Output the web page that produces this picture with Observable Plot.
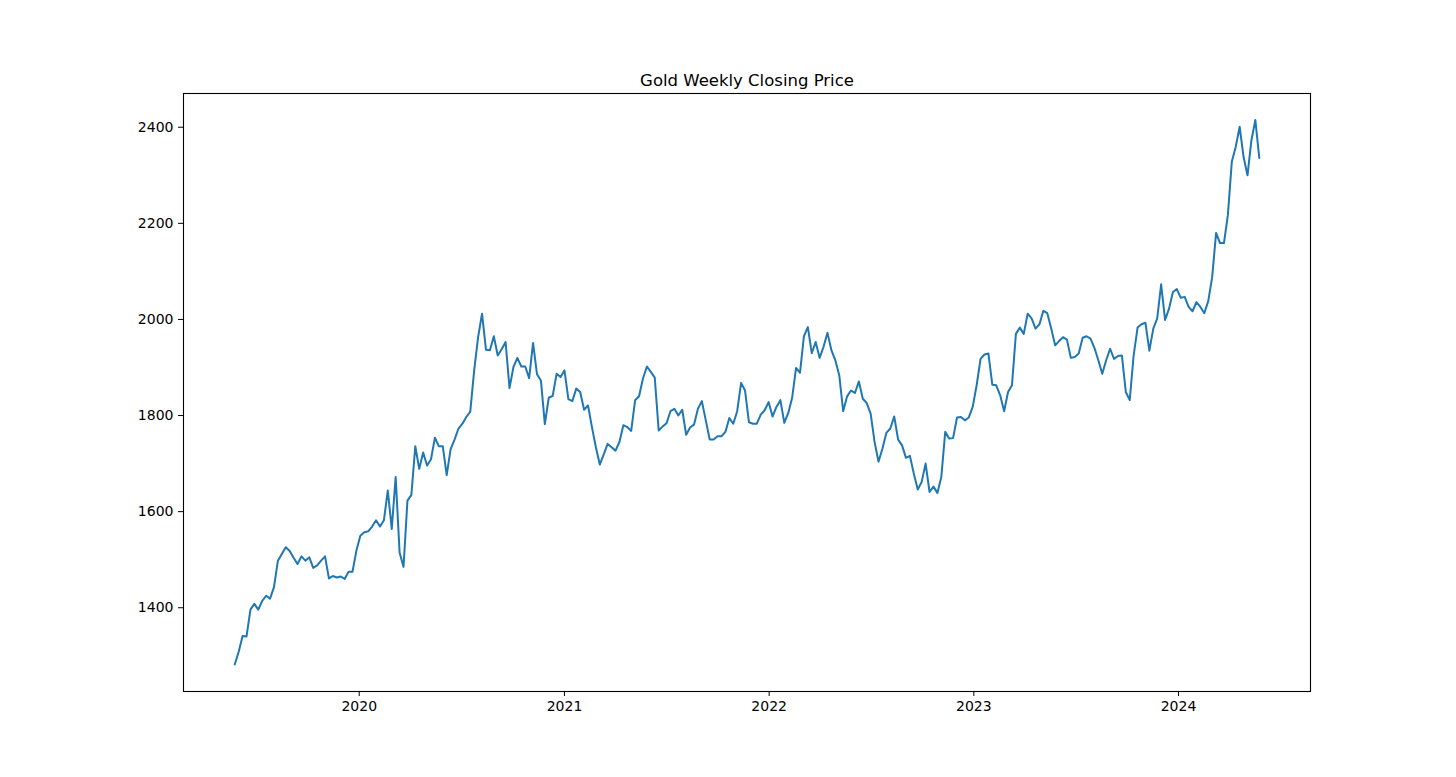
<!DOCTYPE html>
<html>
<head>
<meta charset="utf-8">
<script src="https://cdn.jsdelivr.net/npm/d3@7"></script>
<script src="https://cdn.jsdelivr.net/npm/@observablehq/plot@0.6"></script>
<style>
  html, body { margin: 0; padding: 0; background: #ffffff; }
  #chart { width: 1456px; height: 777px; }
</style>
</head>
<body>
<div id="chart"></div>
<script>
const title = "Gold Weekly Closing Price";
const firstWeek = "2019-05-24";
const closes = [
  1282,1308,1341,1340,1396,1408,1396,1414,1425,1419,
  1443,1498,1512,1526,1518,1504,1491,1507,1498,1505,
  1483,1488,1498,1507,1461,1466,1463,1465,1460,1475,
  1475,1519,1550,1557,1559,1569,1582,1569,1582,1644,
  1564,1672,1515,1485,1623,1635,1736,1689,1723,1696,
  1709,1754,1736,1736,1676,1730,1750,1773,1783,1797,
  1808,1894,1963,2012,1937,1936,1965,1925,1938,1953,
  1857,1901,1920,1902,1902,1878,1951,1886,1873,1782,
  1837,1841,1887,1880,1894,1834,1830,1856,1849,1812,
  1821,1776,1734,1698,1719,1741,1734,1727,1745,1780,
  1776,1768,1832,1840,1877,1902,1891,1879,1769,1777,
  1784,1809,1814,1800,1812,1760,1775,1781,1814,1830,
  1790,1750,1750,1757,1757,1766,1795,1783,1809,1868,
  1852,1786,1783,1783,1802,1811,1828,1798,1818,1832,
  1785,1805,1837,1899,1889,1965,1984,1930,1953,1920,
  1943,1972,1936,1915,1884,1809,1840,1852,1847,1871,
  1835,1826,1804,1745,1704,1731,1764,1773,1798,1750,
  1738,1712,1716,1679,1646,1662,1700,1641,1652,1639,
  1672,1766,1752,1753,1796,1797,1790,1796,1818,1863,
  1918,1927,1929,1864,1863,1842,1809,1849,1863,1970,
  1983,1970,2012,2002,1981,1990,2018,2013,1981,1946,
  1955,1963,1958,1920,1922,1929,1962,1965,1960,1941,
  1915,1887,1915,1939,1918,1924,1925,1849,1832,1925,
  1983,1990,1993,1935,1981,2002,2073,1999,2022,2057,
  2063,2045,2047,2026,2017,2036,2026,2013,2038,2088,
  2180,2159,2159,2217,2328,2359,2401,2338,2300,2373,
  2415,2336
];
const yTicks = [1400, 1600, 1800, 2000, 2200, 2400];
const yBounds = [1225.7, 2470.2];
const xTickYears = ["2020-01-01", "2021-01-01", "2022-01-01", "2023-01-01", "2024-01-01"];

const start = new Date(firstWeek + "T00:00:00Z");
const data = closes.map((v, i) => ({ date: d3.utcDay.offset(start, 7 * i), close: v }));

const t0 = data[0].date.getTime();
const t1 = data[data.length - 1].date.getTime();
const pad = (t1 - t0) * 0.05;
const xDomain = [new Date(t0 - pad), new Date(t1 + pad)];

const chart = Plot.plot({
  width: 1456,
  height: 777,
  marginLeft: 183,
  marginRight: 146,
  marginTop: 93,
  marginBottom: 86,
  style: { fontFamily: "DejaVu Sans", fontSize: "14px", color: "black", background: "white" },
  x: { type: "utc", domain: xDomain },
  y: { domain: yBounds },
  marks: [
    Plot.line(data, { x: "date", y: "close", stroke: "#1f77b4", strokeWidth: 2 }),
    Plot.frame({ stroke: "black", strokeWidth: 1.1 }),
    Plot.axisX({ ticks: xTickYears.map(d => new Date(d + "T00:00:00Z")), tickFormat: d3.utcFormat("%Y"), tickSize: 5, tickPadding: 5, label: null, fontSize: 14 }),
    Plot.axisY({ ticks: yTicks, tickSize: 5, tickPadding: 5, label: null, fontSize: 14, tickFormat: d => String(d) }),
    Plot.text([title], { frameAnchor: "top", lineAnchor: "middle", dy: -13, fontSize: 16.5, fill: "black" })
  ]
});
document.getElementById("chart").appendChild(chart);
</script>
</body>
</html>
